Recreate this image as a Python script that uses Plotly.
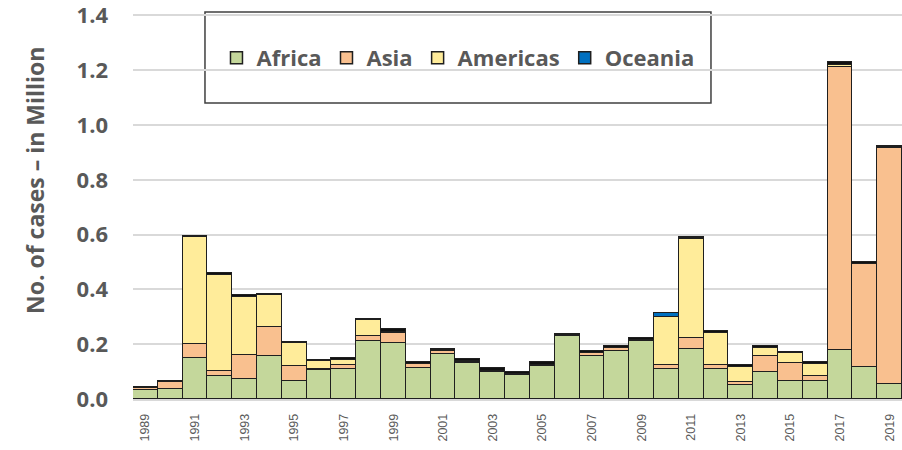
import plotly.graph_objects as go

years = list(range(1989, 2020))
africa = [0.033, 0.036, 0.151, 0.085, 0.073, 0.157, 0.067, 0.106, 0.111, 0.210,
          0.203, 0.112, 0.164, 0.133, 0.100, 0.089, 0.121, 0.230, 0.158, 0.175,
          0.213, 0.110, 0.183, 0.111, 0.051, 0.100, 0.067, 0.067, 0.179, 0.118, 0.054]
asia = [0.006, 0.025, 0.049, 0.017, 0.088, 0.107, 0.054, 0.004, 0.013, 0.020,
        0.038, 0.015, 0.013, 0.003, 0.003, 0.003, 0.004, 0.002, 0.011, 0.013,
        0.003, 0.014, 0.039, 0.013, 0.012, 0.057, 0.066, 0.018, 1.032, 0.374, 0.864]
americas = [0.0, 0.0, 0.393, 0.351, 0.213, 0.114, 0.083, 0.029, 0.019, 0.058,
            0.004, 0.002, 0.001, 0.001, 0.0, 0.0, 0.0, 0.0, 0.0, 0.0,
            0.0, 0.177, 0.363, 0.117, 0.055, 0.028, 0.034, 0.042, 0.010, 0.001, 0.001]
oceania = [0.0] * 21 + [0.012, 0.001] + [0.0] * 8
europe = [0.006, 0.005, 0.001, 0.006, 0.004, 0.005, 0.005, 0.005, 0.006, 0.003,
          0.010, 0.005, 0.005, 0.009, 0.009, 0.008, 0.009, 0.005, 0.007, 0.005,
          0.005, 0.002, 0.005, 0.007, 0.007, 0.007, 0.006, 0.007, 0.008, 0.006, 0.006]
xtick_labels = [str(y) for y in years[::2]]
ytick_vals = [0.0, 0.2, 0.4, 0.6, 0.8, 1.0, 1.2, 1.4]
ytick_labels = ["0.0", "0.2", "0.4", "0.6", "0.8", "1.0", "1.2", "1.4"]
y_title = "No. of cases – in Million"

line = dict(color="#1f1f1f", width=1.5)
fig = go.Figure()
for name, vals, col, show in [
    ("Africa", africa, "#C4D79B", True),
    ("Asia", asia, "#F9C08F", True),
    ("Americas", americas, "#FFEC9A", True),
    ("Oceania", oceania, "#0070C0", True),
    ("Europe", europe, "#111111", False),
]:
    fig.add_trace(go.Bar(x=years, y=vals, name=name, marker=dict(color=col, line=line),
                         showlegend=show))

gray = "#595959"
fnt = "Open Sans"
# plot area: top=10, bottom=399 (height 389) ; y range 0..1.42
fig.update_layout(
    width=902, height=450,
    barmode="stack", bargap=0,
    plot_bgcolor="white", paper_bgcolor="white",
    margin=dict(l=133, r=0, t=10, b=51),
    font=dict(family=fnt, color=gray),
    legend=dict(orientation="h", x=0.4226, xanchor="center", y=0.8766, yanchor="middle",
                bgcolor="rgba(0,0,0,0)", borderwidth=0,
                font=dict(size=22, family=fnt, color=gray, weight="bold"),
                traceorder="normal"),
    shapes=[dict(type="rect", xref="paper", yref="paper", x0=0.0936, x1=0.7516,
                 y0=0.7609, y1=0.9949, line=dict(color="#404040", width=1.5),
                 fillcolor="white", layer="below")],
    annotations=[dict(text=y_title, xref="paper", yref="paper", x=-0.1274, y=0.5604,
                      xanchor="center", yanchor="middle", textangle=-90, showarrow=False,
                      font=dict(size=23, family=fnt, color=gray, weight="bold"))],
)
fig.update_xaxes(range=[1988.5, 2019.5], tickmode="array", tickvals=years[::2],
                 ticktext=xtick_labels, tickangle=-90, automargin=False,
                 ticklabeloverflow="allow", ticklabelstandoff=8,
                 tickfont=dict(size=12.5, family="Liberation Sans", color=gray),
                 showgrid=False, showline=True, linecolor="#d9d9d9", linewidth=1.5,
                 ticks="", zeroline=False)
fig.update_yaxes(range=[0, 1.42], tickmode="array", tickvals=ytick_vals,
                 ticktext=ytick_labels, automargin=False, ticklabeloverflow="allow",
                 tickfont=dict(size=22, family=fnt, color=gray, weight="bold"),
                 ticklabelstandoff=24,
                 showgrid=True, gridcolor="#d9d9d9", gridwidth=1.5, zeroline=False)
fig.write_html("out.html", config={"displayModeBar": False},
               post_script="document.body.style.margin='0';document.body.style.padding='0';")
